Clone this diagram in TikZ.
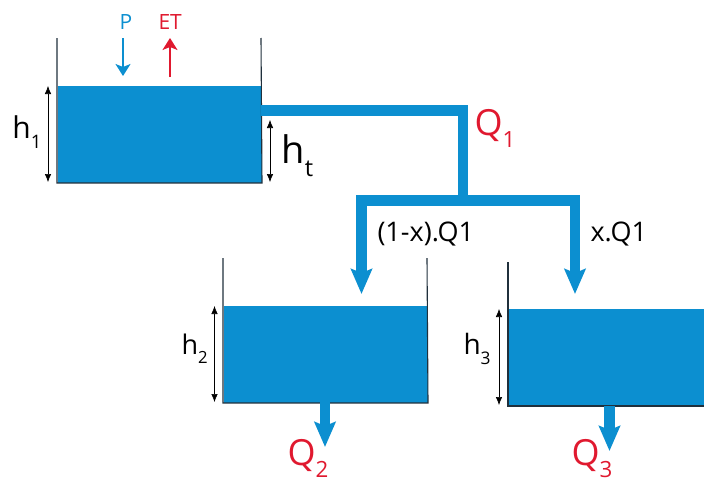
\documentclass[tikz,border=0pt]{standalone}
\usepackage{fontspec}
\setmainfont{Open Sans}
\usetikzlibrary{arrows.meta}
\definecolor{water}{HTML}{0C8FD0}
\definecolor{flux}{HTML}{E0192F}
\definecolor{wallc}{HTML}{20303C}
\newcommand{\lab}[3]{\fontsize{#3}{#3}\selectfont #1\raisebox{-0.36em}{\fontsize{0.62em}{0.62em}\selectfont #2}}

\begin{document}
\begin{tikzpicture}[x = 1pt, y = -1pt, >=latex, line width = 1pt]
    \tikzstyle{tank} = [fill = water, shape = rectangle, inner sep = 0pt, anchor = north west, minimum width = 204pt, minimum height = 96.5pt]
    \tikzstyle{wall} = [draw = wallc, line width = 1.1pt]
    \tikzstyle{level} = [{Latex[length = 8pt, width = 6.5pt]}-{Latex[length = 8pt, width = 6.5pt]}, line width = 0.6pt, black]
    \tikzstyle{pipe} = [draw = water, line width = 10.5pt, miter limit = 10]
    \tikzstyle{flow} = [pipe, -{Stealth[length = 25pt, width = 21pt, inset = 4pt]}]
    \tikzstyle{thin} = [line width = 1.6pt, -{Stealth[length = 12pt, width = 15pt, inset = 3pt]}]
    \tikzstyle{txt} = [inner sep = 0pt, anchor = base west]

    \useasboundingbox (0,0) rectangle (704,482);

    \node[tank] (tank1) at (57,85.5) {};
    \node[tank] (tank2) at (223,305.5) {};
    \node[tank, minimum width = 196pt] (tank3) at (508,308.5) {};

    \draw[wall] (57,38) coordinate (top1a) -- (tank1.south west) -- (tank1.south east) -- (261,38) coordinate (top1b);
    \draw[wall] (223,258) coordinate (top2a) -- (tank2.south west) -- (tank2.south east) -- (427,258) coordinate (top2b);
    \draw[wall] (508,262) coordinate (top3a) -- (tank3.south west) -- (tank3.south east);

    % pipes
    \coordinate (out1) at (261,110.5);
    \coordinate (split) at (463,200.5);
    \coordinate (in2) at (361.5,294);
    \coordinate (in3) at (575,294);
    \coordinate (out2) at (325,402);
    \coordinate (end2) at (325,447);
    \coordinate (out3) at (609.5,406);
    \coordinate (end3) at (609.5,451);

    \draw[pipe] (out1) -| (split);
    \draw[flow] (split) -- (361.5,200.5) -- (in2);
    \draw[flow] (split) -- (575,200.5) -- (in3);
    \draw[flow] (out2) -- (end2);
    \draw[flow] (out3) -- (end3);

    % levels
    \coordinate (h1a) at (48,86);
    \coordinate (h1b) at (48,182);
    \coordinate (hta) at (270,120);
    \coordinate (htb) at (270,182);
    \coordinate (h2a) at (214.5,306);
    \coordinate (h2b) at (214.5,402);
    \coordinate (h3a) at (499,309);
    \coordinate (h3b) at (499,405);
    \draw[level] (h1a) -- (h1b);
    \draw[level] (hta) -- (htb);
    \draw[level] (h2a) -- (h2b);
    \draw[level] (h3a) -- (h3b);

    % fluxes
    \node[txt, text = water] (p) at (119,29) {\fontsize{21}{21}\selectfont P};
    \node[txt, text = flux] (et) at (158,29) {\fontsize{21}{21}\selectfont ET};
    \coordinate (pa) at (123,38);
    \coordinate (pb) at (123,76);
    \coordinate (eta) at (170,77);
    \coordinate (etb) at (170,38);
    \draw[thin, water] (pa) -- (pb);
    \draw[thin, flux] (eta) -- (etb);

    \node[txt] (lh1) at (12,138) {\lab{h}{1}{30}};
    \node[txt] (lht) at (281,163) {\lab{h}{t}{38}};
    \node[txt] (lh2) at (181,354) {\lab{h}{2}{27}};
    \node[txt] (lh3) at (463,354) {\lab{h}{3}{28}};
    \node[txt, text = flux] (lq1) at (474,135) {\lab{Q}{1}{36}};
    \node[txt, text = flux] (lq2) at (287,465) {\lab{Q}{2}{36}};
    \node[txt, text = flux] (lq3) at (571,465) {\lab{Q}{3}{36}};
    \node[txt] (frac1) at (377,241) {\fontsize{27}{27}\selectfont (1-x).Q1};
    \node[txt] (frac2) at (590,241) {\fontsize{27}{27}\selectfont x.Q1};
\end{tikzpicture}
\end{document}
